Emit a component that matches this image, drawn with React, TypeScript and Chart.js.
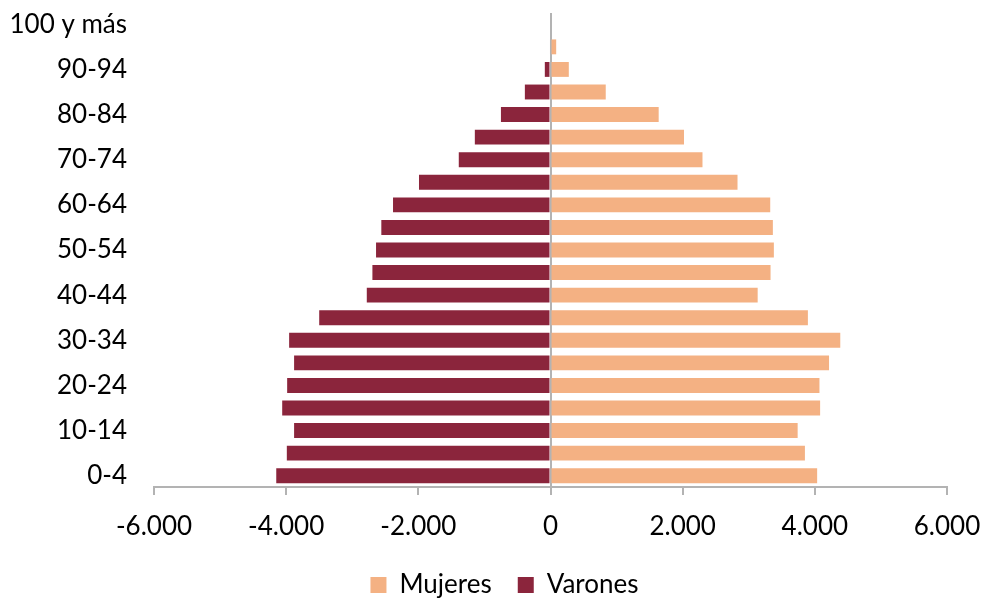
import React, { useEffect, useRef } from "react";
import { Chart, registerables } from "chart.js";

Chart.register(...registerables);

const ageGroups = [
  "0-4", "5-9", "10-14", "15-19", "20-24", "25-29", "30-34", "35-39",
  "40-44", "45-49", "50-54", "55-59", "60-64", "65-69", "70-74", "75-79",
  "80-84", "85-89", "90-94", "95-99", "100 y más",
];

const mujeres = [
  4035, 3850, 3740, 4080, 4070, 4215, 4385, 3895,
  3135, 3330, 3380, 3365, 3325, 2830, 2300, 2020,
  1637, 836, 277, 86, 0,
];

const varones = [
  4150, 3990, 3880, 4060, 3985, 3880, 3955, 3500,
  2780, 2695, 2640, 2560, 2383, 1990, 1388, 1145,
  750, 388, 86, 15, 0,
];

const xTicks = [-6000, -4000, -2000, 0, 2000, 4000, 6000];

const COLOR_MUJERES = "#F4B183";
const COLOR_VARONES = "#8B253C";
const AXIS_GRAY = "#B3B3B3";
const FAMILY = "Lato";
const SIZE = 26;

function fmt(v: number): string {
  const s = String(Math.abs(v)).replace(/\B(?=(\d{3})+(?!\d))/g, ".");
  return (v < 0 ? "-" : "") + s;
}

const legendOffset = {
  id: "legendOffset",
  afterLayout(chart: any) {
    const lg = chart.legend;
    if (lg) {
      lg.left = 62;
    }
  },
};

export default function App() {
  const ref = useRef<HTMLCanvasElement | null>(null);

  useEffect(() => {
    if (!ref.current) return;
    const chart = new Chart(ref.current, {
      type: "bar",
      data: {
        labels: ageGroups,
        datasets: [
          {
            label: "Mujeres",
            data: mujeres,
            backgroundColor: COLOR_MUJERES,
            borderWidth: 0,
            barPercentage: 0.66,
            categoryPercentage: 1,
          },
          {
            label: "Varones",
            data: varones.map((v) => -v),
            backgroundColor: COLOR_VARONES,
            borderWidth: 0,
            barPercentage: 0.66,
            categoryPercentage: 1,
          },
        ],
      },
      options: {
        indexAxis: "y",
        responsive: false,
        animation: false,
        layout: { padding: { top: 12, right: 36, left: 0, bottom: -10 } },
        plugins: {
          tooltip: { enabled: false },
          legend: {
            position: "bottom",
            align: "center",
            labels: {
              boxWidth: 16,
              boxHeight: 16,
              padding: 26,
              color: "#000",
              font: { family: FAMILY, size: SIZE },
            },
          },
        },
        scales: {
          x: {
            type: "linear",
            stacked: true,
            min: -6000,
            max: 6000,
            z: 1,
            afterBuildTicks: (scale: any) => {
              scale.ticks = xTicks.map((v) => ({ value: v }));
            },
            afterFit: (scale: any) => {
              scale.height = 59;
            },
            ticks: {
              color: "#000",
              font: { family: FAMILY, size: SIZE, lineHeight: 2.31 },
              padding: 2,
              maxRotation: 0,
              callback: (v: any) => fmt(Number(v)),
            },
            grid: {
              color: (ctx: any) => (ctx.tick && ctx.tick.value === 0 ? AXIS_GRAY : "rgba(0,0,0,0)"),
              lineWidth: 2,
              tickColor: AXIS_GRAY,
              tickLength: 8,
              drawTicks: true,
            },
            border: { display: true, color: AXIS_GRAY, width: 2 },
          },
          y: {
            type: "category",
            stacked: true,
            reverse: true,
            afterFit: (scale: any) => {
              scale.width = 154;
            },
            ticks: {
              autoSkip: false,
              color: "#000",
              font: { family: FAMILY, size: SIZE, lineHeight: 1 },
              padding: 0,
              callback: (_v: any, i: number) => (i % 2 === 0 ? ageGroups[i] : ""),
            },
            grid: {
              display: true,
              drawOnChartArea: false,
              drawTicks: true,
              tickLength: 27,
              color: "rgba(0,0,0,0)",
              tickColor: "rgba(0,0,0,0)",
            },
            border: { display: false },
          },
        },
      },
      plugins: [legendOffset],
    });
    return () => chart.destroy();
  }, []);

  return (
    <div style={{ position: "absolute", left: 0, top: 0, width: 983, height: 598, background: "#fff" }}>
      <canvas ref={ref} width={983} height={598} style={{ display: "block" }} />
    </div>
  );
}
